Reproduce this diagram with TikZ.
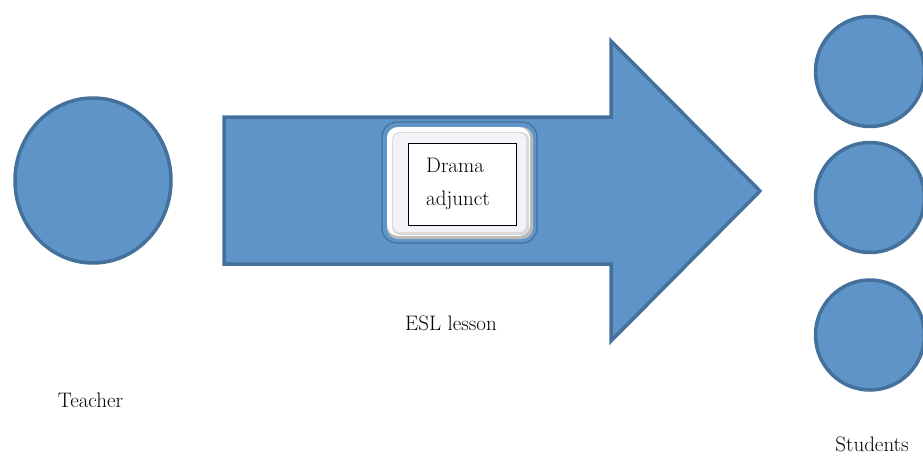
\documentclass[tikz,border=0pt]{standalone}
\usetikzlibrary{shapes.geometric}
\definecolor{shapefill}{RGB}{94,148,200}
\definecolor{shapeline}{RGB}{68,112,156}
\definecolor{platefill}{RGB}{243,242,249}
\begin{document}
\begin{tikzpicture}[x=1pt,y=-1pt,
  person/.style={ellipse,draw=shapeline,fill=shapefill,line width=3.5pt,inner sep=0pt},
  label/.style={font=\fontsize{21}{24}\selectfont,text=black,inner sep=1pt}]
\useasboundingbox (0,0) rectangle (923,455);

% teacher
\node[person,minimum width=156,minimum height=165] (teacher) at (93,180.5) {};
\node[label] (teacherlbl) at (90.5,400) {Teacher};

% lesson arrow
\draw[draw=shapeline,fill=shapefill,line width=3.5pt,line join=miter]
  (224,117) -- (611,117) -- (611,41) -- (760,191) -- (611,341) -- (611,264)
  -- (224,264) -- cycle;
\node[label] (lessonlbl) at (451,323) {ESL lesson};

% bevelled plate on the arrow
\draw[fill=shapefill,draw=shapeline,line width=1.2pt,rounded corners=15]
  (382,122) rectangle (537,243);
\fill[gray!55,rounded corners=11] (387,127) rectangle (533,239);
\fill[white,rounded corners=11] (387,127) rectangle (530,236);
\fill[gray!30,rounded corners=8] (392,132) rectangle (529,235);
\fill[platefill,rounded corners=7] (393,133) rectangle (526,232);
\node[draw=black,fill=white,line width=0.8pt,minimum width=108,minimum height=82,inner sep=0pt]
  (plate) at (462,184) {};
\node[align=left,font=\fontsize{21}{33}\selectfont] (adjunct) at (458,183.5) {Drama\\adjunct};

% students
\node[person,minimum width=109,minimum height=110] (s1) at (870,71.5) {};
\node[person,minimum width=109,minimum height=110] (s2) at (870,197.5) {};
\node[person,minimum width=109,minimum height=110] (s3) at (870,335) {};
\node[label] (studentslbl) at (872,444) {Students};
\end{tikzpicture}
\end{document}
